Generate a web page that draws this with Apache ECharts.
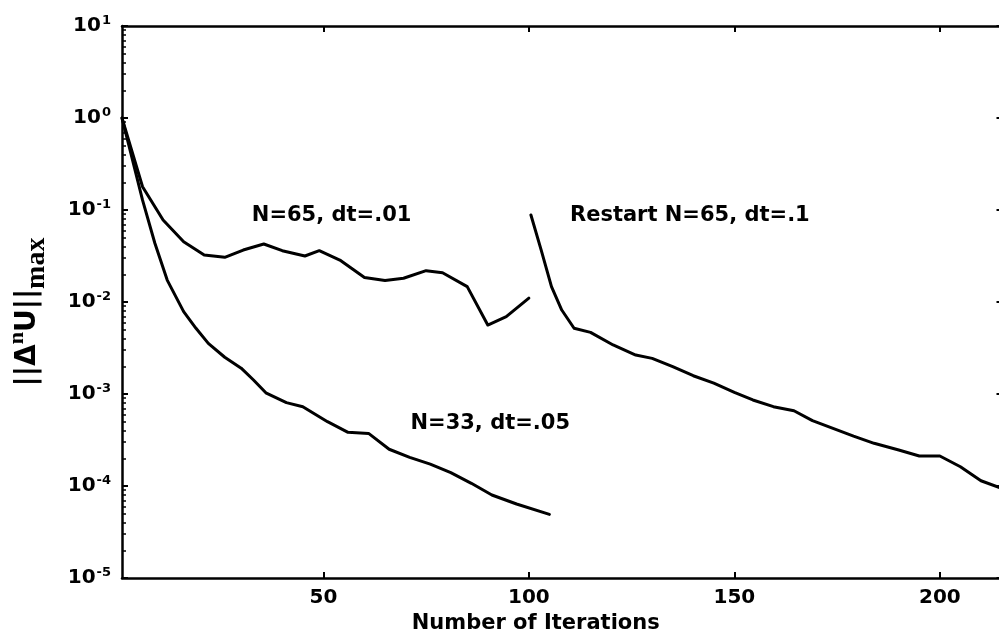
<!DOCTYPE html>
<html>
<head>
<meta charset="utf-8">
<script src="https://cdn.jsdelivr.net/npm/echarts@6/dist/echarts.min.js"></script>
<style>
  html, body { margin: 0; padding: 0; background: #fff; }
  #chart { width: 999px; height: 632px; }
</style>
</head>
<body>
<div id="chart"></div>
<script>
// Convergence histories: max-norm of the update vs. iteration count
var itersN33 = [1, 6, 9, 12, 16, 19, 22, 26, 30, 33, 36, 41, 45, 51, 56, 61, 66, 71, 76, 81, 86, 91, 97, 105];
var normN33 = [1.0, 0.128, 0.0435, 0.0173, 0.00785, 0.00518, 0.00355, 0.00251, 0.00191, 0.00142,
               0.00103, 0.000805, 0.000728, 0.0005, 0.000383, 0.000373, 0.000251, 0.000205,
               0.000173, 0.00014, 0.000107, 0.0000798, 0.0000637, 0.0000492];

var itersN65 = [1, 6, 11, 16, 21, 26, 30.5, 35.5, 40, 45.5, 49, 54, 60, 65, 69.5, 75, 79, 85, 90, 94.5, 100];
var normN65 = [1.0, 0.179, 0.0778, 0.0452, 0.0324, 0.0306, 0.0367, 0.0427, 0.0361, 0.0316, 0.0361,
               0.0286, 0.0185, 0.0171, 0.0181, 0.0219, 0.0208, 0.0147, 0.00562, 0.00692, 0.011];

var itersRestart = [100.5, 103, 105.5, 108, 111, 115, 120.5, 126, 130, 135, 140, 145, 150, 154.5,
                    159.5, 164.5, 169, 174, 179, 184, 190, 195, 200, 205, 210, 215];
var normRestart = [0.0883, 0.0367, 0.0147, 0.00818, 0.00518, 0.00468, 0.00341, 0.00265, 0.00244,
                   0.00198, 0.00158, 0.00131, 0.00104, 0.000861, 0.000728, 0.000658, 0.000513,
                   0.000424, 0.000349, 0.000291, 0.000246, 0.000212, 0.000212, 0.000162,
                   0.000114, 0.0000944];

// Axis ticks
var xTicks = [50, 100, 150, 200];
var yExponents = [-5, -4, -3, -2, -1, 0, 1];

// Curve annotations: [iteration, value, text]
var noteN65 = [52, 0.0861, 'N=65, dt=.01'];
var noteRestart = [110, 0.0861, 'Restart N=65, dt=.1'];
var noteN33 = [90.6, 0.000472, 'N=33, dt=.05'];

function pairs(xs, ys) {
  return xs.map(function (x, i) { return [x, ys[i]]; });
}

var yMajor = yExponents.map(function (e) { return Math.pow(10, e); });
var yMinor = [];
yExponents.slice(0, -1).forEach(function (e) {
  for (var k = 2; k <= 9; k++) yMinor.push(k * Math.pow(10, e));
});

var FONT = 'DejaVu Sans';
var INK = '#000';

function note(n, align) {
  return {
    symbol: 'rect',
    symbolSize: 1,
    silent: true,
    itemStyle: { color: 'rgba(0,0,0,0)' },
    label: {
      show: true,
      position: 'inside',
      align: align,
      verticalAlign: 'middle',
      color: INK,
      fontFamily: FONT,
      fontWeight: 'bold',
      fontSize: 21,
      formatter: function (p) { return p.name; }
    },
    data: [{ name: n[2], coord: [n[0], n[1]] }]
  };
}

function curve(name, xs, ys, mark) {
  return {
    name: name,
    type: 'line',
    data: pairs(xs, ys),
    showSymbol: false,
    symbol: 'none',
    lineStyle: { color: INK, width: 3, join: 'round', cap: 'round' },
    itemStyle: { color: INK },
    animation: false,
    markPoint: mark
  };
}

var chart = echarts.init(document.getElementById('chart'), null, { renderer: 'canvas' });

chart.setOption({
  backgroundColor: '#fff',
  animation: false,
  grid: { left: 122, right: -2.5, top: 26, bottom: 54, containLabel: false, outerBoundsMode: 'none' },
  xAxis: [
    {
      type: 'value', min: 1, max: 215, position: 'bottom',
      name: 'Number of Iterations', nameLocation: 'middle', nameGap: 29,
      nameTextStyle: { color: INK, fontFamily: FONT, fontWeight: 'bold', fontSize: 21, padding: [0, 52, 0, 0] },
      axisLine: { show: true, onZero: false, lineStyle: { color: INK, width: 2.5 } },
      axisTick: { show: true, inside: true, length: 6, customValues: xTicks, lineStyle: { color: INK, width: 2 } },
      axisLabel: { show: true, customValues: xTicks, margin: 10, color: INK, fontFamily: FONT, fontWeight: 'bold', fontSize: 20 },
      splitLine: { show: false }
    },
    {
      type: 'value', min: 1, max: 215, position: 'top',
      axisLine: { show: true, onZero: false, lineStyle: { color: INK, width: 2.5 } },
      axisTick: { show: true, inside: true, length: 6, customValues: xTicks, lineStyle: { color: INK, width: 2 } },
      axisLabel: { show: false },
      splitLine: { show: false }
    }
  ],
  yAxis: [
    {
      type: 'log', logBase: 10, min: 1e-5, max: 10, position: 'left',
      name: '{m|||Δ}{sup|n}{m|U||}{sub|max}',
      nameLocation: 'middle', nameGap: 72, nameRotate: 90,
      nameTextStyle: {
        color: INK,
        padding: [0, 20, 0, 0],
        rich: {
          m: { fontFamily: FONT, fontWeight: 'bold', fontSize: 28, color: INK, lineHeight: 44, verticalAlign: 'middle' },
          sup: { fontFamily: 'Liberation Serif', fontWeight: 'bold', fontSize: 22, color: INK, lineHeight: 44, padding: [0, 0, 22, 0], verticalAlign: 'middle' },
          sub: { fontFamily: 'Liberation Serif', fontWeight: 'bold', fontSize: 28, color: INK, lineHeight: 44, padding: [18, 0, 0, 0], verticalAlign: 'middle' }
        }
      },
      axisLine: { show: true, onZero: false, lineStyle: { color: INK, width: 2.5 } },
      axisTick: { show: true, inside: true, length: 6, customValues: yMajor, lineStyle: { color: INK, width: 2 } },
      axisLabel: {
        show: true, customValues: yMajor, margin: 11,
        formatter: function (v) {
          var e = Math.round(Math.log(v) / Math.LN10);
          return '{b|10}{s|' + e + '}';
        },
        rich: {
          b: { fontFamily: FONT, fontWeight: 'bold', fontSize: 20, color: INK, lineHeight: 24, verticalAlign: 'middle' },
          s: { fontFamily: FONT, fontWeight: 'bold', fontSize: 13, color: INK, lineHeight: 24, padding: [0, 0, 11, 1], verticalAlign: 'middle' }
        }
      },
      splitLine: { show: false }
    },
    {
      // minor decade subdivisions on the left edge
      type: 'log', logBase: 10, min: 1e-5, max: 10, position: 'left',
      axisLine: { show: false },
      axisTick: { show: true, inside: true, length: 4, customValues: yMinor, lineStyle: { color: INK, width: 1.5 } },
      axisLabel: { show: false },
      splitLine: { show: false }
    },
    {
      type: 'log', logBase: 10, min: 1e-5, max: 10, position: 'right',
      axisLine: { show: true, onZero: false, lineStyle: { color: INK, width: 2.5 } },
      axisTick: { show: true, inside: true, length: 5, customValues: yMajor, lineStyle: { color: INK, width: 2 } },
      axisLabel: { show: false },
      splitLine: { show: false }
    }
  ],
  series: [
    curve('N=33, dt=.05', itersN33, normN33, note(noteN33, 'center')),
    curve('N=65, dt=.01', itersN65, normN65, note(noteN65, 'center')),
    curve('Restart N=65, dt=.1', itersRestart, normRestart, note(noteRestart, 'left'))
  ]
});
</script>
</body>
</html>
